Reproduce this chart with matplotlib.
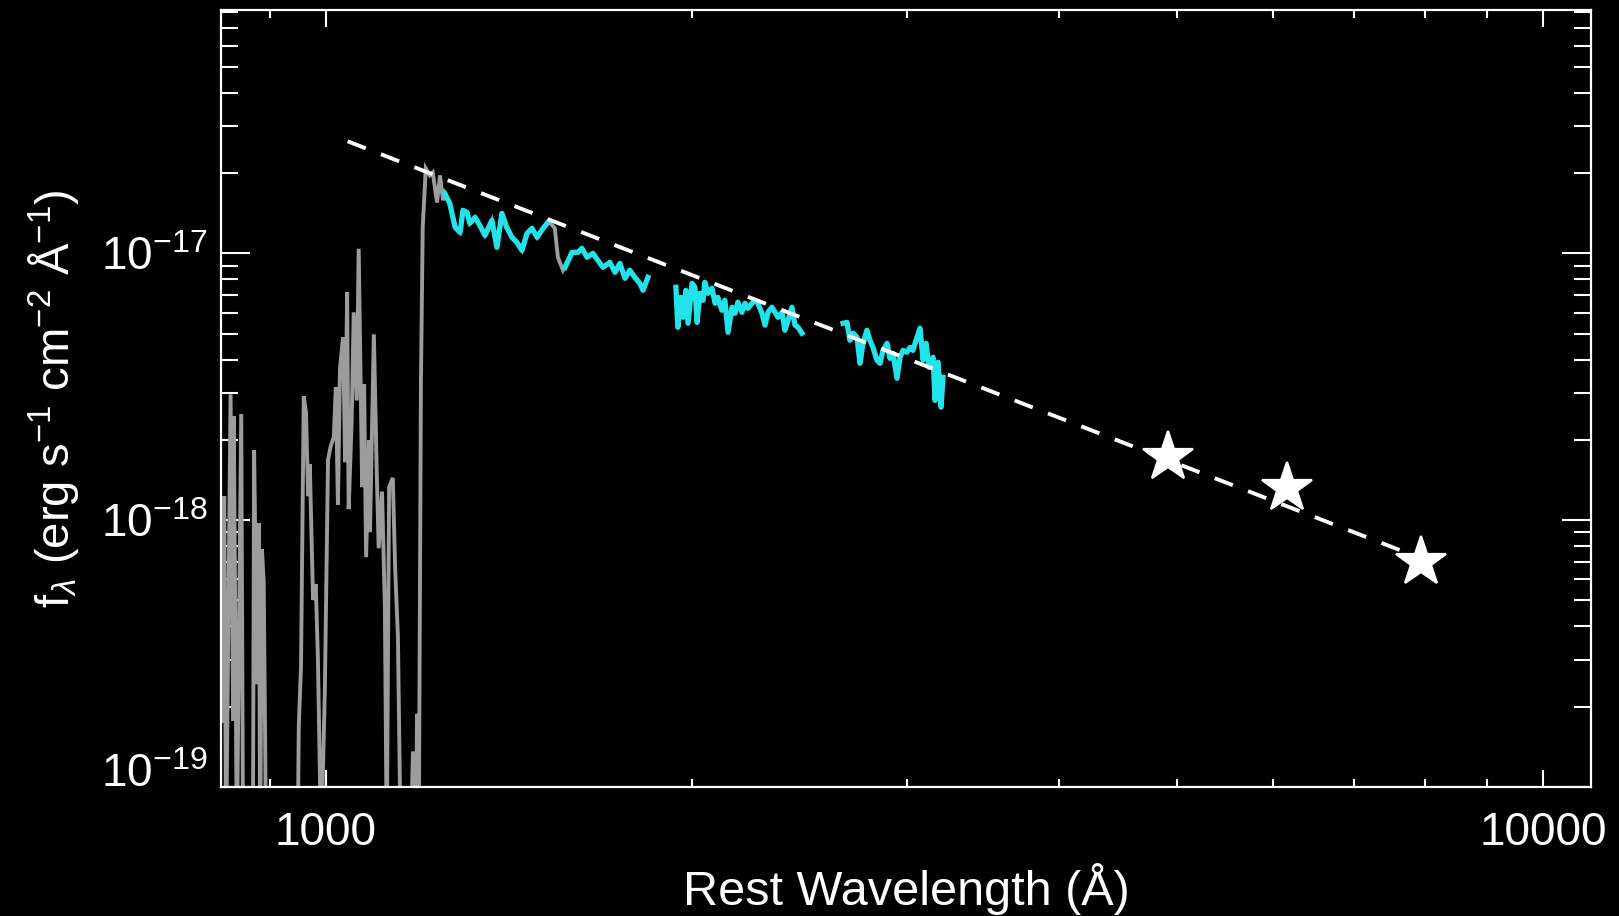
import numpy as np
import matplotlib
matplotlib.use("Agg")
import matplotlib.pyplot as plt
import matplotlib.transforms as mtransforms
from matplotlib.ticker import NullFormatter, LogLocator

plt.rcParams['font.family'] = ['Liberation Sans', 'DejaVu Sans']
plt.rcParams['mathtext.fontset'] = 'custom'
plt.rcParams['mathtext.rm'] = 'Liberation Sans'
plt.rcParams['mathtext.it'] = 'Liberation Sans:italic'
plt.rcParams['mathtext.bf'] = 'Liberation Sans:bold'

# ---------------- data ----------------
# Lyman forest + Ly-alpha region (grey spectrum), wavelength in Angstrom
forest_wave = [821, 825, 828, 835, 839, 840, 845, 852, 855, 871, 873, 878, 881, 883,
               886, 889, 893, 948, 950, 954, 959, 963, 967, 970, 976, 981, 985, 991,
               998, 1004, 1009, 1015, 1019, 1023, 1027, 1033, 1037, 1041, 1044, 1050,
               1054, 1060, 1064, 1071, 1075, 1079, 1085, 1087, 1095, 1101, 1105, 1112,
               1118, 1122, 1127, 1135, 1140, 1146, 1152, 1174, 1179, 1186, 1188, 1192,
               1197, 1201, 1208, 1217, 1224, 1234, 1241, 1248]
forest_flux = [1.77e-19, 1.23e-18, 6e-20, 2.96e-18, 1.77e-19, 2.45e-18, 6e-20, 2.50e-18,
               6e-20, 6e-20, 1.83e-18, 2.43e-19, 9.74e-19, 6e-20, 7.79e-19, 5.86e-19,
               6e-20, 6e-20, 1.69e-19, 2.84e-19, 2.91e-18, 2.54e-18, 1.23e-18, 1.62e-18,
               5.02e-19, 5.76e-19, 3.02e-19, 6e-20, 2.29e-19, 1.68e-18, 1.89e-18,
               2.05e-18, 3.15e-18, 1.14e-18, 3.71e-18, 4.85e-18, 1.65e-18, 7.15e-18,
               1.10e-18, 2.37e-18, 6.01e-18, 2.81e-18, 1.04e-17, 1.33e-18, 3.23e-18,
               7.27e-19, 1.99e-18, 9.02e-19, 4.97e-18, 1.50e-18, 7.85e-19, 1.28e-18,
               4.80e-19, 6e-20, 1.33e-18, 1.44e-18, 6.55e-19, 3.65e-19, 6e-20, 6e-20,
               1.36e-19, 6e-20, 1.88e-19, 6e-20, 3.34e-18, 1.25e-17, 2.08e-17,
               1.96e-17, 2.01e-17, 1.55e-17, 1.96e-17, 1.58e-17]

# CIV region (grey)
civ_wave = [1528, 1542, 1551, 1566]
civ_flux = [1.306e-17, 1.240e-17, 0.966e-17, 0.864e-17]

# continuum windows (cyan)
seg1_wave = [1252, 1264, 1277, 1289, 1296, 1306, 1313, 1326, 1338, 1351, 1369, 1382,
             1395, 1408, 1422, 1435, 1449, 1463, 1477, 1491, 1508, 1522]
seg1_flux = [1.678e-17, 1.539e-17, 1.251e-17, 1.198e-17, 1.449e-17, 1.424e-17,
             1.295e-17, 1.364e-17, 1.273e-17, 1.168e-17, 1.329e-17, 1.053e-17,
             1.412e-17, 1.251e-17, 1.148e-17, 1.100e-17, 1.026e-17, 1.188e-17,
             1.240e-17, 1.148e-17, 1.240e-17, 1.306e-17]

seg2_wave = [1572, 1593, 1611, 1623, 1639, 1657, 1673, 1689, 1711, 1728, 1744, 1761,
             1777, 1794, 1811, 1822, 1839]
seg2_flux = [0.886e-17, 1.009e-17, 1.009e-17, 1.044e-17, 0.966e-17, 1.000e-17,
             0.941e-17, 0.886e-17, 0.925e-17, 0.849e-17, 0.917e-17, 0.806e-17,
             0.864e-17, 0.813e-17, 0.772e-17, 0.727e-17, 0.813e-17]

seg3_wave = [1939, 1946, 1957, 1965, 1976, 1984, 1999, 2010, 2018, 2029, 2041, 2048,
             2060, 2076, 2088, 2099, 2115, 2127, 2140, 2156, 2168, 2180, 2197, 2210,
             2222, 2239, 2252, 2264, 2282, 2295, 2308, 2325, 2339, 2352, 2370, 2383,
             2397, 2415, 2429, 2443, 2461]
seg3_flux = [0.746e-17, 0.528e-17, 0.684e-17, 0.576e-17, 0.727e-17, 0.547e-17,
             0.772e-17, 0.746e-17, 0.551e-17, 0.708e-17, 0.667e-17, 0.779e-17,
             0.708e-17, 0.740e-17, 0.650e-17, 0.684e-17, 0.612e-17, 0.667e-17,
             0.506e-17, 0.628e-17, 0.596e-17, 0.656e-17, 0.601e-17, 0.650e-17,
             0.622e-17, 0.650e-17, 0.667e-17, 0.650e-17, 0.596e-17, 0.538e-17,
             0.601e-17, 0.628e-17, 0.601e-17, 0.576e-17, 0.601e-17, 0.515e-17,
             0.561e-17, 0.628e-17, 0.538e-17, 0.528e-17, 0.502e-17]

seg4_wave = [2660, 2680, 2695, 2711, 2731, 2747, 2762, 2783, 2799, 2815, 2836, 2853,
             2869, 2891, 2907, 2924, 2946, 2963, 2980, 3002, 3019, 3036, 3060, 3077,
             3095, 3112, 3130, 3154, 3166, 3184, 3202, 3214]
seg4_flux = [0.547e-17, 0.551e-17, 0.472e-17, 0.502e-17, 0.485e-17, 0.387e-17,
             0.460e-17, 0.515e-17, 0.472e-17, 0.444e-17, 0.398e-17, 0.387e-17,
             0.433e-17, 0.460e-17, 0.404e-17, 0.422e-17, 0.340e-17, 0.408e-17,
             0.433e-17, 0.426e-17, 0.444e-17, 0.433e-17, 0.485e-17, 0.524e-17,
             0.398e-17, 0.460e-17, 0.374e-17, 0.408e-17, 0.281e-17, 0.391e-17,
             0.265e-17, 0.343e-17]

# power-law fit (dashed)
fit_wave = [1042, 7935]
fit_flux = [2.63e-17, 7.2e-19]

# photometric points (stars)
phot_wave = [4920, 6160, 7935]
phot_flux = [1.72e-18, 1.32e-18, 6.97e-19]

xtick_vals = [1000, 10000]
xtick_labels = ['1000', '10000']
ytick_vals = [1e-19, 1e-18, 1e-17]
ytick_labels = [r'$10^{-19}$', r'$10^{-18}$', r'$10^{-17}$']

# ---------------- figure ----------------
W, H, DPI = 1619, 916, 100
fig = plt.figure(figsize=(W / DPI, H / DPI), dpi=DPI, facecolor='black')
ax = fig.add_axes([221 / W, 1 - 787 / H, (1591 - 221) / W, (787 - 9.5) / H])
ax.set_facecolor('black')

grey_w = forest_wave + seg1_wave + civ_wave + seg2_wave[:1]
grey_f = forest_flux + seg1_flux + civ_flux + seg2_flux[:1]
ax.plot(grey_w, grey_f, color='#9c9c9c', lw=2.8, solid_joinstyle='miter')

cyan = '#22e3ea'
for w, f in [(seg1_wave, seg1_flux), (seg2_wave, seg2_flux),
             (seg3_wave, seg3_flux), (seg4_wave, seg4_flux)]:
    ax.plot(w, f, color=cyan, lw=3.8)

ax.plot(fit_wave, fit_flux, color='white', lw=2.8, dashes=(5, 4.2), zorder=4)
ax.plot(phot_wave, phot_flux, linestyle='none', marker='*', ms=38,
        color='white', mec='white', mew=1.6, zorder=5)

ax.set_xscale('log')
ax.set_yscale('log')
ax.set_xlim(820, 10950)
ax.set_ylim(1e-19, 8.2e-17)

ax.set_xticks(xtick_vals)
ax.set_xticklabels(xtick_labels)
ax.xaxis.set_minor_formatter(NullFormatter())
ax.set_yticks(ytick_vals)
ax.set_yticklabels(ytick_labels)
ax.yaxis.set_minor_locator(LogLocator(base=10, subs=np.arange(2, 10)))
ax.yaxis.set_minor_formatter(NullFormatter())

for s in ax.spines.values():
    s.set_color('white')
    s.set_linewidth(1.6)

ax.tick_params(axis='both', which='both', direction='in', colors='white',
               top=True, right=True, width=1.5)
ax.tick_params(axis='x', which='major', length=12, labelsize=33, pad=17)
ax.tick_params(axis='x', which='minor', length=6)
ax.tick_params(axis='y', which='major', length=21, labelsize=33, pad=10)
ax.tick_params(axis='y', which='minor', length=12)

# the lowest y label sits slightly above its tick in the reference
low_lab = ax.yaxis.get_major_ticks()[0].label1
low_lab.set_transform(low_lab.get_transform() +
                      mtransforms.ScaledTranslation(0, 12 / 72, fig.dpi_scale_trans))

ax.set_xlabel('Rest Wavelength (Å)', color='white', fontsize=35, labelpad=6)
ax.set_ylabel(r'f$_\lambda$ (erg s$^{-1}$ cm$^{-2}$ Å$^{-1}$)', color='white',
              fontsize=34, labelpad=14)

fig.savefig('out.png', dpi=DPI, facecolor='black')
